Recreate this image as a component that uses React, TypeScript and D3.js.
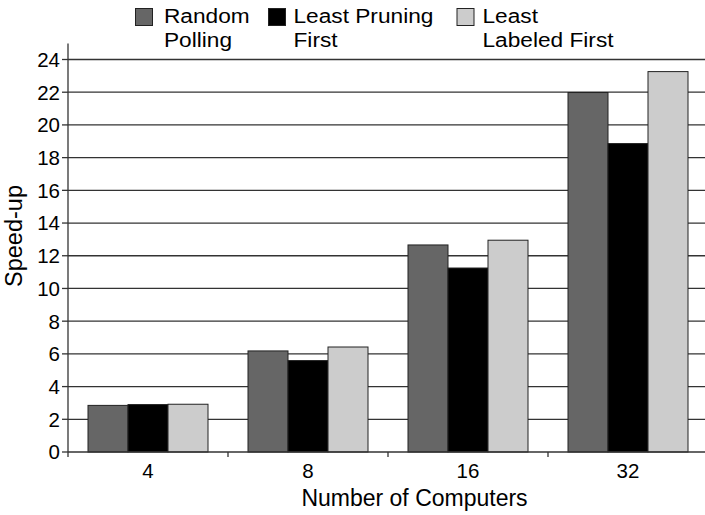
import React from "react";
import * as d3 from "d3";

const categories = ["4", "8", "16", "32"];
const seriesNames = ["Random Polling", "Least Pruning First", "Least Labeled First"];
const legendLines = [["Random", "Polling"], ["Least Pruning", "First"], ["Least", "Labeled First"]];
const randomPolling = [2.85, 6.18, 12.66, 21.98];
const leastPruningFirst = [2.9, 5.59, 11.25, 18.86];
const leastLabeledFirst = [2.92, 6.42, 12.95, 23.26];
const yTicks = [0, 2, 4, 6, 8, 10, 12, 14, 16, 18, 20, 22, 24];
const colors = ["#666666", "#000000", "#cccccc"];

export default function App() {
  const W = 705, H = 515;
  const left = 68, right = 708, top = 59.5, bottom = 452;
  const font = "'Liberation Sans', Arial, Helvetica, sans-serif";
  const x = d3.scaleBand<string>().domain(categories).range([left, right]).paddingInner(0).paddingOuter(0);
  const inner = d3.scaleBand<string>().domain(seriesNames).range([20, x.bandwidth() - 20]).padding(0);
  const y = d3.scaleLinear().domain([0, 24]).range([bottom, top]);
  const series = [randomPolling, leastPruningFirst, leastLabeledFirst];
  const legendX = [[135.5, 164], [268.5, 293.5], [457, 482.5]];
  return (
    <svg width={W} height={H} style={{ position: "absolute", left: 0, top: 0, background: "#fff" }} fontFamily={font}>
      {yTicks.map((t) => (
        <g key={t}>
          {t > 0 && <line x1={left} x2={right} y1={y(t)} y2={y(t)} stroke="#333" strokeWidth={1.3} />}
          <line x1={left - 6} x2={left} y1={y(t)} y2={y(t)} stroke="#333" strokeWidth={1.3} />
          <text x={left - 8} y={y(t)} dy="0.36em" textAnchor="end" fontSize={20.5} fill="#000">{t}</text>
        </g>
      ))}
      {categories.map((c, i) => (
        <g key={c}>
          {series.map((s, j) => (
            <rect key={j} x={(x(c) as number) + (inner(seriesNames[j]) as number)} y={y(s[i])}
              width={inner.bandwidth()} height={bottom - y(s[i])} fill={colors[j]} stroke="#222" strokeWidth={1} />
          ))}
          <text x={(x(c) as number) + x.bandwidth() / 2} y={bottom + 26} textAnchor="middle" fontSize={20.5} fill="#000">{c}</text>
        </g>
      ))}
      {categories.map((c, i) => i > 0 && (
        <line key={"t" + c} x1={x(c)} x2={x(c)} y1={bottom} y2={bottom + 5} stroke="#333" strokeWidth={1.3} />
      ))}
      <line x1={left} x2={left} y1={top - 16} y2={bottom + 5} stroke="#333" strokeWidth={1.3} />
      <line x1={left} x2={right} y1={bottom} y2={bottom} stroke="#333" strokeWidth={1.3} />
      <text transform={`translate(22,236) rotate(-90)`} textAnchor="middle" fontSize={23.5} fill="#000">Speed-up</text>
      <text x={414.5} y={506} textAnchor="middle" fontSize={23} fill="#000">Number of Computers</text>
      {seriesNames.map((n, j) => (
        <g key={n}>
          <rect x={legendX[j][0]} y={8.5} width={17} height={17} fill={colors[j]} stroke="#222" strokeWidth={1} />
          <text transform={`translate(${legendX[j][1]},22.5) scale(1.08,1)`} fontSize={21} fill="#000">{legendLines[j][0]}</text>
          <text transform={`translate(${legendX[j][1]},47) scale(1.08,1)`} fontSize={21} fill="#000">{legendLines[j][1]}</text>
        </g>
      ))}
    </svg>
  );
}
